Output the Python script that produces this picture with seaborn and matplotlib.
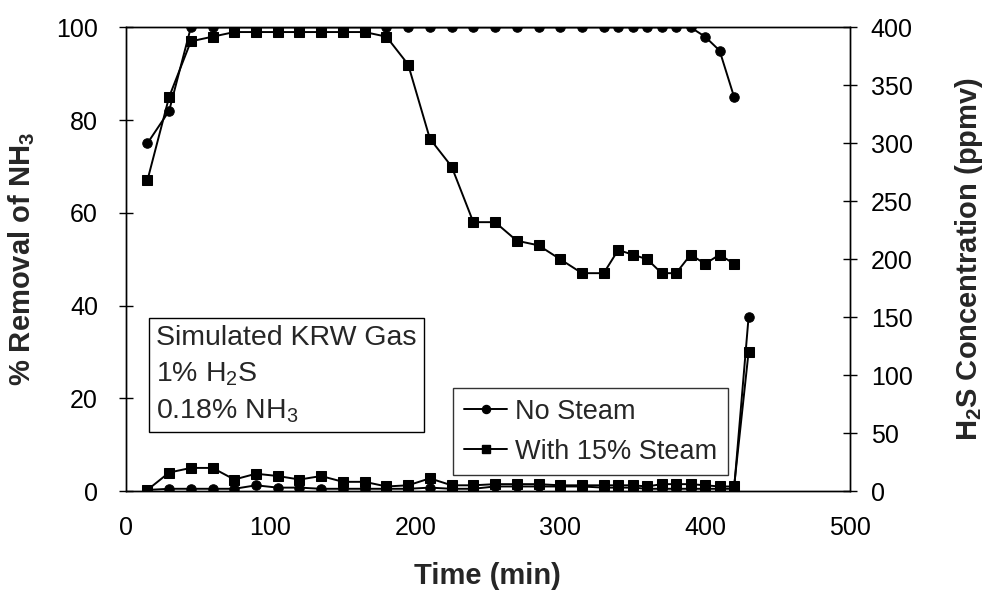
import matplotlib
matplotlib.use("Agg")
import matplotlib.pyplot as plt
import seaborn as sns
import pandas as pd
from matplotlib.lines import Line2D

# ---- data ----
time_nh3 = [15, 30, 45, 60, 75, 90, 105, 120, 135, 150, 165, 180, 195, 210, 225,
            240, 255, 270, 285, 300, 315, 330, 340, 350, 360, 370, 380, 390, 400, 410, 420]
nh3_no_steam = [75, 82, 100, 100, 100, 100, 100, 100, 100, 100, 100, 100, 100, 100, 100,
                100, 100, 100, 100, 100, 100, 100, 100, 100, 100, 100, 100, 100, 98, 95, 85]
nh3_steam = [67, 85, 97, 98, 99, 99, 99, 99, 99, 99, 99, 98, 92, 76, 70,
             58, 58, 54, 53, 50, 47, 47, 52, 51, 50, 47, 47, 51, 49, 51, 49]

time_h2s = [15, 30, 45, 60, 75, 90, 105, 120, 135, 150, 165, 180, 195, 210, 225,
            240, 255, 270, 285, 300, 315, 330, 340, 350, 360, 370, 380, 390, 400, 410, 420, 430]
h2s_no_steam = [1, 2, 2, 2, 2, 5, 3, 3, 2, 2, 2, 2, 2, 3, 2,
                2, 4, 4, 4, 4, 4, 3, 3, 3, 2, 2, 2, 2, 2, 2, 2, 150]
h2s_steam = [1, 16, 20, 20, 10, 15, 13, 10, 13, 8, 8, 4, 5, 11, 5,
             5, 6, 6, 6, 5, 5, 5, 5, 5, 4, 6, 6, 6, 5, 4, 4, 120]

series_labels = ["No Steam", "With 15% Steam"]
box_text = "Simulated KRW Gas\n1% H$_2$S\n0.18% NH$_3$"

sns.set_theme(style="white")
plt.rcParams["font.family"] = ["Liberation Sans", "DejaVu Sans"]
plt.rcParams["mathtext.fontset"] = "custom"
plt.rcParams["mathtext.rm"] = "Liberation Sans"
plt.rcParams["mathtext.it"] = "Liberation Sans:italic"
plt.rcParams["mathtext.bf"] = "Liberation Sans:bold"

fig = plt.figure(figsize=(9.91, 5.96), dpi=100)
ax = fig.add_axes([0.1268, 0.176, 0.7309, 0.778])
ax2 = ax.twinx()

df_nh3 = pd.DataFrame({"t": time_nh3, "no": nh3_no_steam, "st": nh3_steam})
df_h2s = pd.DataFrame({"t": time_h2s, "no": h2s_no_steam, "st": h2s_steam})

lw = 1.4
ms = 6.8
kw = dict(color="black", linewidth=lw, markersize=ms, markeredgecolor="black",
          markerfacecolor="black", legend=False, errorbar=None)
sns.lineplot(data=df_nh3, x="t", y="no", marker="o", ax=ax, **kw)
sns.lineplot(data=df_nh3, x="t", y="st", marker="s", ax=ax, **kw)
sns.lineplot(data=df_h2s, x="t", y="no", marker="o", ax=ax2, **kw)
sns.lineplot(data=df_h2s, x="t", y="st", marker="s", ax=ax2, **kw)

ax.set_xlim(0, 500)
ax.set_ylim(0, 100)
ax2.set_ylim(0, 400)
ax.set_xticks([0, 100, 200, 300, 400, 500])
ax.set_yticks([0, 20, 40, 60, 80, 100])
ax2.set_yticks([0, 50, 100, 150, 200, 250, 300, 350, 400])

fs_tick = 18
ax.tick_params(axis="x", direction="inout", length=10, width=1, labelsize=fs_tick,
               colors="black", pad=13)
ax.tick_params(axis="y", direction="inout", length=10, width=1, labelsize=fs_tick,
               colors="black", pad=15)
ax2.tick_params(axis="y", direction="inout", length=10, width=1, labelsize=fs_tick,
                colors="black", pad=10)
for a in (ax, ax2):
    for s in a.spines.values():
        s.set_color("black")
        s.set_linewidth(1.0)

ax.set_xlabel("Time (min)", fontsize=21, fontweight="bold", labelpad=16)
ax.set_ylabel(r"% Removal of NH$_\mathbf{3}$", fontsize=21, fontweight="bold", labelpad=14)
ax2.set_ylabel(r"H$_\mathbf{2}$S Concentration (ppmv)", fontsize=21, fontweight="bold",
               labelpad=29)

ax.text(0.042, 0.358, box_text, transform=ax.transAxes, fontsize=20.5, va="top", ha="left",
        linespacing=1.45,
        bbox=dict(boxstyle="square,pad=0.25", facecolor="white", edgecolor="black", linewidth=1))

handles = [Line2D([], [], color="black", marker="o", linewidth=lw, markersize=ms - 1),
           Line2D([], [], color="black", marker="s", linewidth=lw, markersize=ms - 1)]
leg = ax2.legend(handles, series_labels, loc="lower left", bbox_to_anchor=(0.452, 0.034),
                 fontsize=19.5, frameon=True, fancybox=False, edgecolor="black",
                 handlelength=1.6, handletextpad=0.3, borderpad=0.4, labelspacing=0.5,
                 borderaxespad=0)
leg.get_frame().set_linewidth(1)

fig.savefig("out.png", dpi=100)
